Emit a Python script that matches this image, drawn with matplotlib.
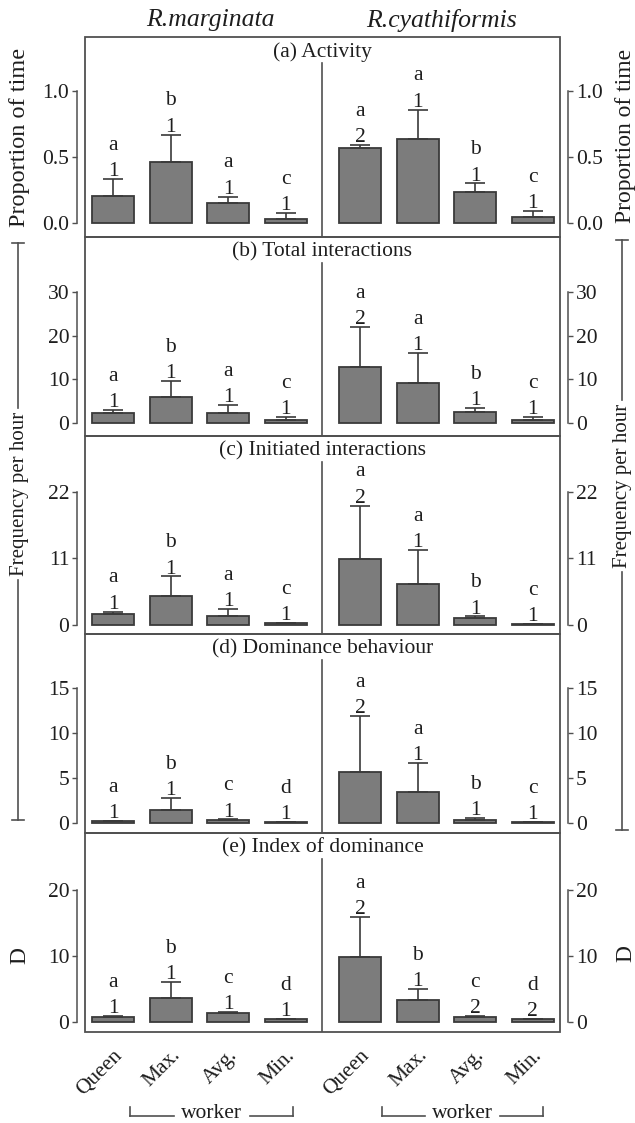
import numpy as np
import matplotlib
matplotlib.use('Agg')
import matplotlib.pyplot as plt
from matplotlib.patches import Rectangle
from matplotlib.lines import Line2D

plt.rcParams['font.family'] = ['Liberation Serif', 'DejaVu Serif']

# ---------------- data ----------------
species = ['R.marginata', 'R.cyathiformis']
categories = ['Queen', 'Max.', 'Avg.', 'Min.']
panel_titles = ['(a) Activity', '(b) Total interactions', '(c) Initiated interactions',
                '(d) Dominance behaviour', '(e) Index of dominance']

# (a) Activity - proportion of time
act_marg_mean = [0.205, 0.46, 0.15, 0.03]
act_marg_se = [0.13, 0.21, 0.05, 0.045]
act_cyat_mean = [0.57, 0.64, 0.235, 0.045]
act_cyat_se = [0.02, 0.22, 0.065, 0.045]
act_marg_let = ['a', 'b', 'a', 'c']
act_marg_num = ['1', '1', '1', '1']
act_cyat_let = ['a', 'a', 'b', 'c']
act_cyat_num = ['2', '1', '1', '1']

# (b) Total interactions - frequency per hour
tot_marg_mean = [2.3, 6.0, 2.3, 0.7]
tot_marg_se = [0.7, 3.6, 1.8, 0.7]
tot_cyat_mean = [12.8, 9.1, 2.5, 0.6]
tot_cyat_se = [9.2, 6.9, 0.9, 0.8]
tot_marg_let = ['a', 'b', 'a', 'c']
tot_marg_num = ['1', '1', '1', '1']
tot_cyat_let = ['a', 'a', 'b', 'c']
tot_cyat_num = ['2', '1', '1', '1']

# (c) Initiated interactions
ini_marg_mean = [1.8, 4.8, 1.5, 0.25]
ini_marg_se = [0.4, 3.2, 1.1, 0.1]
ini_cyat_mean = [10.9, 6.8, 1.1, 0.15]
ini_cyat_se = [8.8, 5.6, 0.3, 0.05]
ini_marg_let = ['a', 'b', 'a', 'c']
ini_marg_num = ['1', '1', '1', '1']
ini_cyat_let = ['a', 'a', 'b', 'c']
ini_cyat_num = ['2', '1', '1', '1']

# (d) Dominance behaviour
dom_marg_mean = [0.2, 1.5, 0.35, 0.1]
dom_marg_se = [0.05, 1.3, 0.05, 0.02]
dom_cyat_mean = [5.7, 3.5, 0.35, 0.1]
dom_cyat_se = [6.2, 3.2, 0.2, 0.02]
dom_marg_let = ['a', 'b', 'c', 'd']
dom_marg_num = ['1', '1', '1', '1']
dom_cyat_let = ['a', 'a', 'b', 'c']
dom_cyat_num = ['2', '1', '1', '1']

# (e) Index of dominance
idx_marg_mean = [0.8, 3.7, 1.3, 0.4]
idx_marg_se = [0.15, 2.4, 0.2, 0.1]
idx_cyat_mean = [9.9, 3.3, 0.8, 0.4]
idx_cyat_se = [6.0, 1.7, 0.1, 0.05]
idx_marg_let = ['a', 'b', 'c', 'd']
idx_marg_num = ['1', '1', '1', '1']
idx_cyat_let = ['a', 'b', 'c', 'd']
idx_cyat_num = ['2', '1', '2', '2']

yticks_a = [0.0, 0.5, 1.0]
yticks_b = [0, 10, 20, 30]
yticks_c = [0, 11, 22]
yticks_d = [0, 5, 10, 15]
yticks_e = [0, 10, 20]

rows = [
    (act_marg_mean, act_marg_se, act_marg_let, act_marg_num,
     act_cyat_mean, act_cyat_se, act_cyat_let, act_cyat_num, yticks_a, (-0.106, 1.41), '%.1f'),
    (tot_marg_mean, tot_marg_se, tot_marg_let, tot_marg_num,
     tot_cyat_mean, tot_cyat_se, tot_cyat_let, tot_cyat_num, yticks_b, (-3.0, 42.6), '%d'),
    (ini_marg_mean, ini_marg_se, ini_marg_let, ini_marg_num,
     ini_cyat_mean, ini_cyat_se, ini_cyat_let, ini_cyat_num, yticks_c, (-1.5, 31.2), '%d'),
    (dom_marg_mean, dom_marg_se, dom_marg_let, dom_marg_num,
     dom_cyat_mean, dom_cyat_se, dom_cyat_let, dom_cyat_num, yticks_d, (-1.1, 21.0), '%d'),
    (idx_marg_mean, idx_marg_se, idx_marg_let, idx_marg_num,
     idx_cyat_mean, idx_cyat_se, idx_cyat_let, idx_cyat_num, yticks_e, (-1.5, 28.6), '%d'),
]

# ---------------- layout ----------------
W, H = 635, 1123
fig = plt.figure(figsize=(W / 100, H / 100), dpi=100)

def fx(x):
    return x / W

def fy(y):
    return 1 - y / H

TXT = '#1e1e1e'
LN = '#505050'
BAR = '#7c7c7c'
BAR_EDGE = '#3a3a3a'
FS = 15.5

row_edges = [37, 237, 436, 634, 833, 1032]
box_l, box_r = 85, 560
xpos_l = np.arange(4)
xpos_r = np.arange(4) + 4.3
xlim = (-0.487, 7.773)
divider_x = 3.635
bar_w = 0.73

for i, row in enumerate(rows):
    (m1, s1, l1, n1, m2, s2, l2, n2, yt, ylim, fmt) = row
    top, bot = row_edges[i], row_edges[i + 1]
    ax = fig.add_axes([fx(box_l), fy(bot), (box_r - box_l) / W, (bot - top) / H])
    ax.set_xlim(*xlim)
    ax.set_ylim(*ylim)
    ax.patch.set_alpha(0)

    for xs, m, s, lets, nums in ((xpos_l, m1, s1, l1, n1), (xpos_r, m2, s2, l2, n2)):
        ax.bar(xs, m, width=bar_w, color=BAR, edgecolor=BAR_EDGE, linewidth=1.3, zorder=2)
        ax.errorbar(xs, m, yerr=[np.zeros(len(m)), s], fmt='none', ecolor='#3a3a3a',
                    elinewidth=1.2, capsize=7.5, capthick=1.2, zorder=3)
        for x, mv, sv, lt, nm in zip(xs, m, s, lets, nums):
            ax.annotate(nm, (x, mv + sv), xytext=(0, 2.0), textcoords='offset points',
                        ha='center', va='baseline', fontsize=FS, color=TXT, zorder=4)
            ax.annotate(lt, (x, mv + sv), xytext=(0, 21), textcoords='offset points',
                        ha='center', va='baseline', fontsize=FS, color=TXT, zorder=4)

    # box and divider
    ax.add_patch(Rectangle((0, 0), 1, 1, transform=ax.transAxes, fill=False,
                           lw=1.3, ec=LN, clip_on=False, zorder=5))
    trans = ax.get_xaxis_transform()
    ax.plot([divider_x, divider_x], [0, 1 - 26 / (bot - top)], transform=trans,
            color=LN, lw=1.2, zorder=5)
    ax.text(0.5, 1 - 15 / (bot - top), panel_titles[i], transform=ax.transAxes,
            ha='center', va='center', fontsize=FS, color=TXT)

    # y axes on both sides
    for side in ('top', 'bottom'):
        ax.spines[side].set_visible(False)
    for side in ('left', 'right'):
        sp = ax.spines[side]
        sp.set_position(('outward', 5.76))
        sp.set_bounds(yt[0], yt[-1])
        sp.set_color(LN)
        sp.set_linewidth(1.1)
    ax.set_yticks(yt)
    ax.set_yticklabels([fmt % v for v in yt])
    ax.tick_params(axis='y', left=True, right=True, labelleft=True, labelright=True,
                   length=3.6, width=1.0, color=LN, pad=2.0, labelsize=FS, labelcolor=TXT)

    if i == len(rows) - 1:
        ax.set_xticks(list(xpos_l) + list(xpos_r))
        ax.set_xticklabels(categories + categories, rotation=45, ha='right',
                           va='top', rotation_mode='anchor', fontsize=FS, color=TXT)
        ax.tick_params(axis='x', length=0, pad=10)
    else:
        ax.set_xticks([])

# species titles
fig.text(fx(210), fy(20), species[0], ha='center', va='center', fontsize=18.5,
         style='italic', color=TXT)
fig.text(fx(442), fy(20), species[1], ha='center', va='center', fontsize=18.5,
         style='italic', color=TXT)

# y labels
fig.text(fx(20), fy(137), 'Proportion of time', rotation=90, ha='center', va='center',
         fontsize=17.5, color=TXT)
fig.text(fx(625), fy(136), 'Proportion of time', rotation=90, ha='center', va='center',
         fontsize=17, color=TXT)
fig.text(fx(20), fy(494), 'Frequency per hour', rotation=90, ha='center', va='center',
         fontsize=15, color=TXT)
fig.text(fx(622), fy(486), 'Frequency per hour', rotation=90, ha='center', va='center',
         fontsize=15, color=TXT)
fig.text(fx(20), fy(955), 'D', rotation=90, ha='center', va='center', fontsize=17, color=TXT)
fig.text(fx(626), fy(953), 'D', rotation=90, ha='center', va='center', fontsize=17, color=TXT)

def fline(xs, ys, lw=1.2):
    fig.add_artist(Line2D([fx(x) for x in xs], [fy(y) for y in ys], color=LN, lw=lw,
                          transform=fig.transFigure))

# "Frequency per hour" range lines
for x, t, a, b, e in ((18, 243, 408, 580, 820), (622, 240, 400, 572, 830)):
    fline([x, x], [t, a])
    fline([x, x], [b, e])
    fline([x - 6, x + 6], [t, t])
    fline([x - 6, x + 6], [e, e])

# worker brackets
for l, r in ((130, 293), (382, 543)):
    c = (l + r) / 2
    fline([l, l], [1107, 1116])
    fline([r, r], [1107, 1116])
    fline([l, c - 38], [1116, 1116])
    fline([c + 38, r], [1116, 1116])
    fig.text(fx(c), fy(1114), 'worker', ha='center', va='center', fontsize=FS, color=TXT)

fig.savefig('out.png', dpi=100)
